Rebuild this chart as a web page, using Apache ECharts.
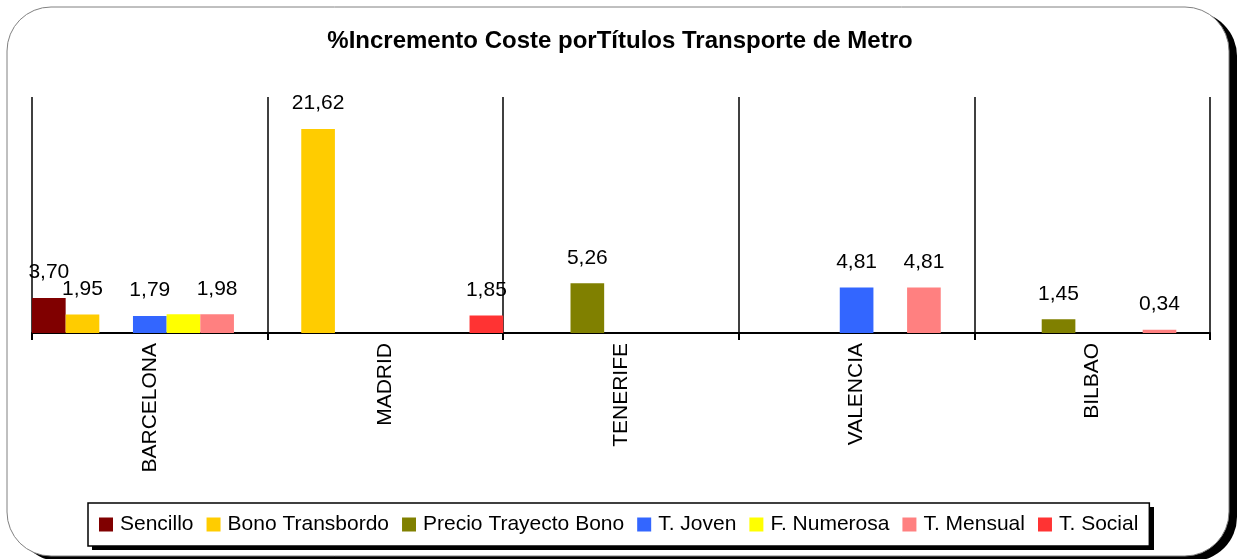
<!DOCTYPE html>
<html>
<head>
<meta charset="utf-8">
<script src="https://cdn.jsdelivr.net/npm/echarts@6/dist/echarts.min.js"></script>
<style>
  html, body { margin: 0; padding: 0; background: #fff; }
  #chartmain { width: 1240px; height: 559px; }
</style>
</head>
<body>
<div id="chartmain"></div>
<script>
// categorias y series
var cities = ['BARCELONA', 'MADRID', 'TENERIFE', 'VALENCIA', 'BILBAO'];
var seriesNames = ['Sencillo', 'Bono Transbordo', 'Precio Trayecto Bono', 'T. Joven', 'F. Numerosa', 'T. Mensual', 'T. Social'];
var sencillo = [3.70, null, null, null, null];
var bonoTransbordo = [1.95, 21.62, null, null, null];
var precioTrayecto = [null, null, 5.26, null, 1.45];
var tJoven = [1.79, null, null, 4.81, null];
var fNumerosa = [1.98, null, null, null, null];
var tMensual = [1.98, null, null, 4.81, 0.34];
var tSocial = [null, 1.85, null, null, null];
var colors = ['#800000', '#FFCC00', '#808000', '#3366FF', '#FFFF00', '#FF8080', '#FF3333'];

var allData = [sencillo, bonoTransbordo, precioTrayecto, tJoven, fNumerosa, tMensual, tSocial];
var font = 'Liberation Sans, Arial, sans-serif';

var arrSeries = [];
for (var i = 0; i < seriesNames.length; i++) {
	arrSeries.push({
		name : seriesNames[i],
		type : 'bar',
		barGap : '0%',
		barCategoryGap : '0%',
		itemStyle : { color : colors[i] },
		label : {
			show : seriesNames[i] !== 'F. Numerosa',
			position : 'top',
			distance : 15,
			color : '#000',
			fontSize : 21,
			fontFamily : font,
			formatter : function(p) {
				return p.value.toFixed(2).replace('.', ',');
			}
		},
		data : allData[i]
	});
}

var option = {
	animation : false,
	color : colors,
	graphic : [ {
		type : 'rect',
		shape : { x : 15, y : 12, width : 1222, height : 549, r : 44 },
		style : { fill : '#000' },
		z : -10
	}, {
		type : 'rect',
		shape : { x : 7, y : 7, width : 1222, height : 549, r : 44 },
		style : { fill : '#fff', stroke : '#808080', lineWidth : 1 },
		z : -9
	}, {
		// sombra de la leyenda
		type : 'rect',
		shape : { x : 92, y : 507, width : 1062, height : 43 },
		style : { fill : '#000' },
		z : -8
	} ],
	title : {
		text : '%Incremento Coste porTítulos Transporte de Metro',
		left : 'center',
		top : 29,
		padding : 0,
		textStyle : { fontSize : 24, fontWeight : 'bold', color : '#000', fontFamily : font }
	},
	legend : {
		data : seriesNames,
		left : 88,
		top : 503,
		width : 1100,
		padding : [ 11, 11 ],
		itemWidth : 14,
		itemHeight : 14,
		itemGap : 13,
		icon : 'rect',
		backgroundColor : '#fff',
		borderColor : '#000',
		borderWidth : 1.5,
		textStyle : { fontSize : 21, color : '#000', fontFamily : font, padding : [ 0, 0, 0, 2 ] }
	},
	grid : { left : 32, right : 30, top : 97, bottom : 226 },
	xAxis : [ {
		type : 'category',
		data : cities,
		axisLine : { lineStyle : { color : '#000', width : 2 } },
		axisTick : { show : true, length : 7, lineStyle : { color : '#000', width : 2 } },
		axisLabel : { rotate : 90, margin : 10, fontSize : 21, color : '#000', fontFamily : font },
		splitLine : { show : true, showMinLine : true, showMaxLine : true, lineStyle : { color : '#000', width : 1.5 } }
	} ],
	yAxis : [ {
		type : 'value',
		min : 0,
		max : 25,
		show : false,
		splitLine : { show : false }
	} ],
	series : arrSeries
};

var myChart = echarts.init(document.getElementById('chartmain'));
myChart.setOption(option);
</script>
</body>
</html>
